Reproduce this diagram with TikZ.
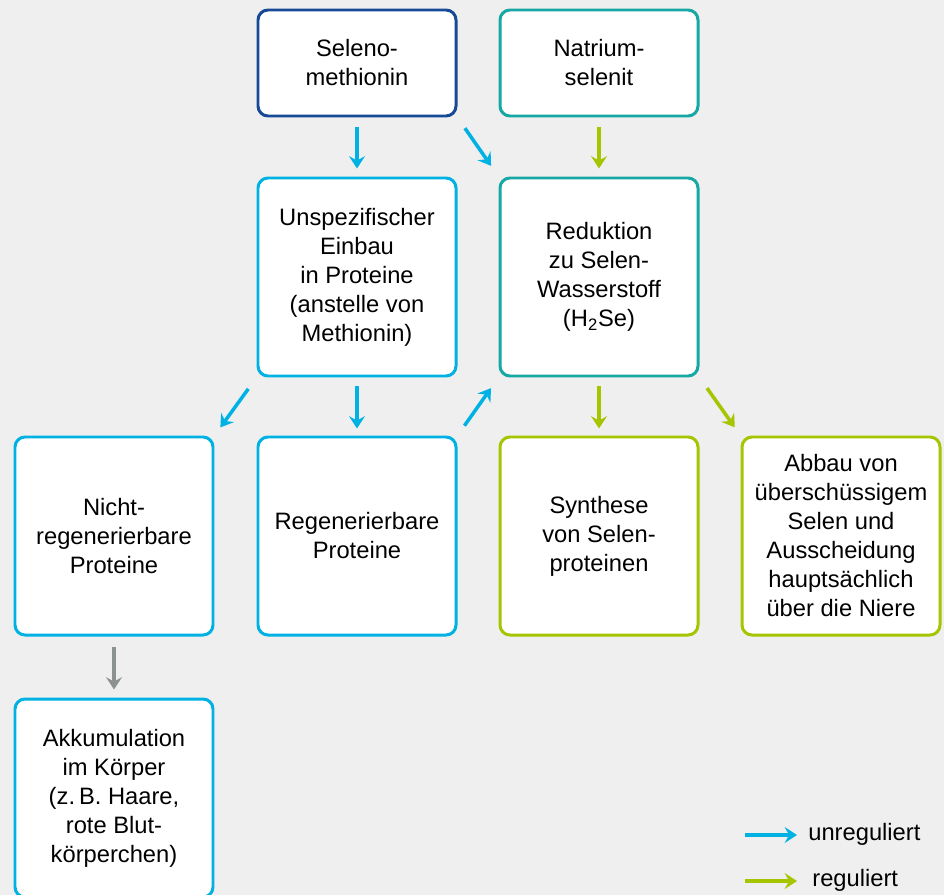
\documentclass[tikz,border=0pt]{standalone}
\usepackage{fontspec}
\setmainfont{Liberation Sans}
\usetikzlibrary{arrows.meta}

\definecolor{bggray}{RGB}{239,239,239}
\definecolor{selblue}{RGB}{22,74,150}
\definecolor{selteal}{RGB}{22,168,164}
\definecolor{unregcyan}{RGB}{0,178,227}
\definecolor{reggreen}{RGB}{166,196,0}
\definecolor{accgray}{RGB}{140,145,145}

\begin{document}
\begin{tikzpicture}[
	>={Stealth[length=7pt,width=9pt,inset=2.5pt]},
	box/.style={rectangle, rounded corners=0.2cm, line width=1.7pt, fill=white, align=center,
		minimum width=3.96cm, minimum height=3.96cm, inner sep=2pt,
		font=\fontsize{13.5}{16.5}\selectfont},
	topbox/.style={box, minimum height=2.12cm},
	unreg/.style={line width=2pt, draw=unregcyan},
	reg/.style={line width=2pt, draw=reggreen},
	acc/.style={line width=2pt, draw=accgray},
	legend/.style={anchor=west, inner sep=0pt, font=\fontsize{13.5}{16.5}\selectfont}
]
	\fill[bggray] (0,0) rectangle (18.88,-17.9);
	\useasboundingbox (0,0) rectangle (18.88,-17.9);
	\clip (0,0) rectangle (18.88,-17.9);

	% starting substances
	\node 	(selmet)	at	(7.14,-1.26) 	[topbox, draw=selblue]{Seleno-\\methionin};
	\node 	(natsel)	at	(11.98,-1.26) 	[topbox, draw=selteal]{Natrium-\\selenit};

	% second row
	\node 	(unspez)	at	(7.14,-5.54) 	[box, draw=unregcyan]{Unspezifischer\\Einbau\\in Proteine\\(anstelle von\\Methionin)}
		edge[<-, unreg, shorten <=0.16cm, shorten >=0.2cm]	(selmet);
	\node 	(reduk)		at	(11.98,-5.54) 	[box, draw=selteal]{Reduktion\\zu Selen-\\Wasserstoff\\(H\textsubscript{2}Se)}
		edge[<-, reg, shorten <=0.16cm, shorten >=0.2cm]	(natsel);

	\draw[->, unreg, shorten <=0.26cm, shorten >=0.26cm] (selmet.south east) -- (reduk.north west);

	% third row
	\node 	(nichtreg)	at	(2.28,-10.72) 	[box, draw=unregcyan]{Nicht-\\regenerierbare\\Proteine};
	\node 	(regen)		at	(7.14,-10.72) 	[box, draw=unregcyan]{Regenerierbare\\Proteine}
		edge[<-, unreg, shorten <=0.14cm, shorten >=0.18cm]	(unspez);
	\node 	(synth)		at	(11.98,-10.72) 	[box, draw=reggreen]{Synthese\\von Selen-\\proteinen}
		edge[<-, reg, shorten <=0.14cm, shorten >=0.18cm]	(reduk);
	\node 	(abbau)		at	(16.82,-10.72) 	[box, draw=reggreen]{Abbau von\\überschüssigem\\Selen und\\Ausscheidung\\hauptsächlich\\über die Niere};

	\draw[->, unreg, shorten <=0.28cm, shorten >=0.2cm] (unspez.south west) -- (nichtreg.north east);
	\draw[->, unreg, shorten <=0.24cm, shorten >=0.26cm] (regen.north east) -- (reduk.south west);
	\draw[->, reg, shorten <=0.26cm, shorten >=0.2cm] (reduk.south east) -- (abbau.north west);

	% fourth row
	\node 	(akkum)		at	(2.28,-15.96) 	[box, draw=unregcyan]{Akkumulation\\im Körper\\(z.\,B. Haare,\\rote Blut-\\körperchen)}
		edge[<-, acc, shorten <=0.16cm, shorten >=0.2cm]	(nichtreg);

	% legend
	\node 	(lunreg)	at	(16.16,-16.68) 	[legend]{unreguliert};
	\node 	(lreg)		at	(16.24,-17.6) 	[legend]{reguliert};
	\coordinate (lunregstart) at (14.9,-16.7);
	\coordinate (lregstart) at (14.9,-17.62);
	\draw[->, unreg, shorten >=0.22cm] (lunregstart) -- (lunregstart -| lunreg.west);
	\draw[->, reg, shorten >=0.3cm] (lregstart) -- (lregstart -| lreg.west);

\end{tikzpicture}
\end{document}
